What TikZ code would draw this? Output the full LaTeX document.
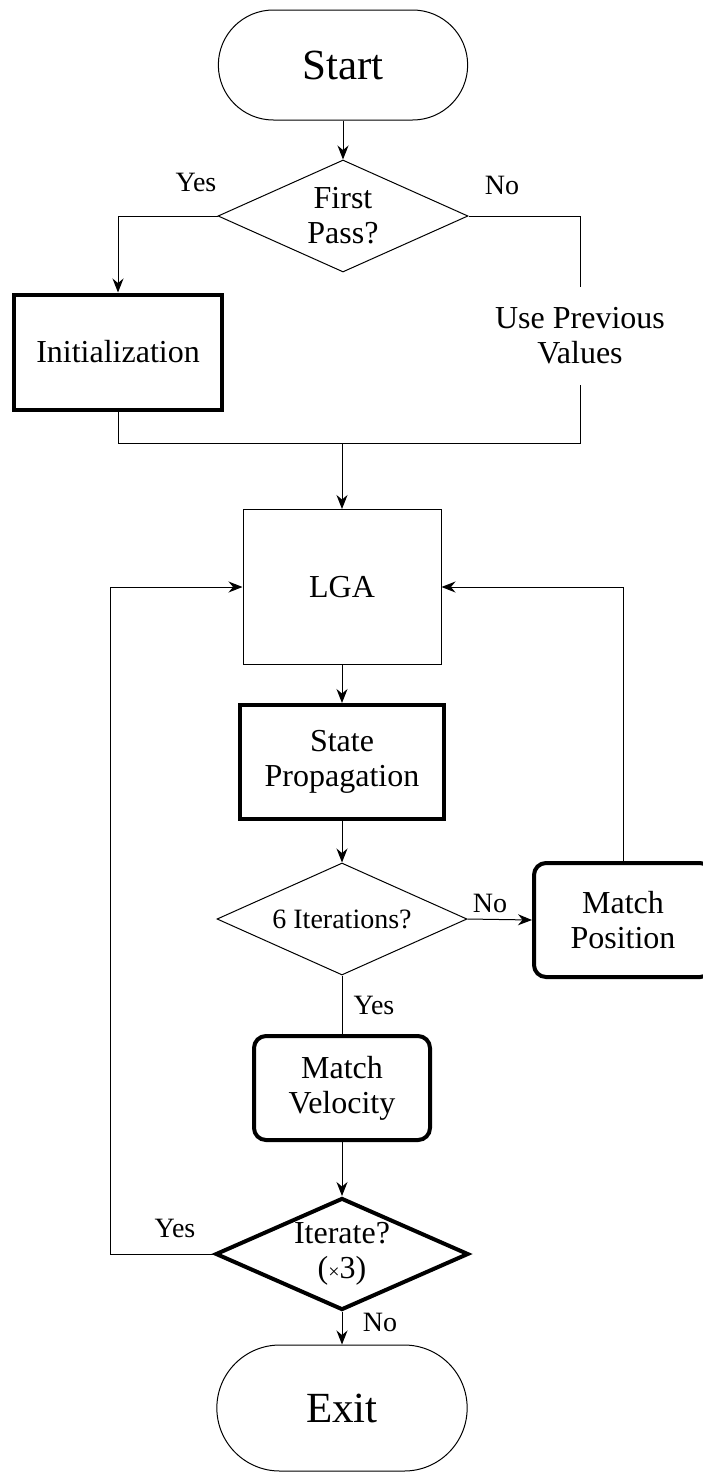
\documentclass[tikz,border=0pt]{standalone}
\usepackage{fontspec}
\setmainfont{Liberation Serif}
\usetikzlibrary{
  arrows.meta,
  positioning,
  shapes.geometric,
  shapes.misc
}

\begin{document}
\begin{tikzpicture}[
  x=1pt, y=-1pt,
  every node/.style={font=\fontsize{32}{35}\selectfont, align=center},
  terminal/.style={draw, line width=1pt, rounded rectangle, minimum width=256pt,
                   minimum height=110pt, font=\fontsize{43}{48}\selectfont},
  decision/.style={draw, diamond, line width=1pt, shape aspect=2.25,
                   minimum width=250pt, minimum height=112pt, inner sep=0pt},
  plainbox/.style={draw, line width=1pt, minimum width=198pt, minimum height=155pt},
  boldbox/.style={draw, line width=4pt, minimum width=204pt, minimum height=114pt},
  matchbox/.style={draw, line width=4pt, rounded corners=12pt,
                   minimum width=176pt, minimum height=104pt},
  answer/.style={font=\fontsize{28}{32}\selectfont},
  flow/.style={line width=1pt},
  >={Stealth[length=14pt,width=11pt]}
]
\useasboundingbox (0,0) rectangle (702,1475);

% Main column
\node[terminal] (start) at (343,65) {Start};
\node[decision] (firstpass) at (343,216) {First\\Pass?};
\node[boldbox, minimum width=208pt, minimum height=115pt] (init) at (118,352) {Initialization};
\node[inner sep=0pt, minimum height=98pt] (prev) at (580,336) {Use Previous\\Values};
\coordinate (join) at (342,443);
\node[plainbox] (lga) at (342,587) {LGA};
\node[boldbox] (prop) at (342,762) {State\\Propagation};
\node[decision, font=\fontsize{28}{32}\selectfont] (sixiter) at (342,919) {6 Iterations?};
\node[matchbox, minimum width=178pt, minimum height=114pt] (matchpos) at (623,920) {Match\\Position};
\node[matchbox] (matchvel) at (342,1088) {Match\\Velocity};
\node[decision, line width=4pt, minimum width=253pt] (iterate) at (342,1254)
  {Iterate?\\({\fontsize{20}{20}\selectfont ×}3)};
\node[terminal, minimum width=257pt, minimum height=126pt] (exit) at (342,1408) {Exit};

% Branch labels
\foreach \x/\y/\t/\n in {196/182/Yes/yesfirst, 502/185/No/nofirst,
                         490/903/No/nosix, 374/1005/Yes/yessix,
                         175/1228/Yes/yesiter, 380/1322/No/noiter} {
  \node[answer] (\n) at (\x,\y) {\t};
}

% Straight arrows down
\foreach \a/\b in {start/firstpass, lga/prop, prop/sixiter, matchvel/iterate, iterate/exit} {
  \draw[flow, ->] (\a.south) -- (\b.north);
}

% First pass split and merge
\draw[flow, ->] (firstpass.west) -| (init.north);
\draw[flow] (firstpass.east) -| (prev.north);
\draw[flow] (init.south) |- (join);
\draw[flow] (prev.south) |- (join);
\draw[flow, ->] (join) -- (lga.north);

% Loops back to LGA
\draw[flow, ->] (sixiter.east) -- (matchpos.west);
\draw[flow, ->] (matchpos.north) |- (lga.east);
\draw[flow] (sixiter.south) -- (matchvel.north);
\coordinate (loopleft) at (110,1254);
\draw[flow, ->] (iterate.west) -- (loopleft) |- (lga.west);

\end{tikzpicture}
\end{document}
